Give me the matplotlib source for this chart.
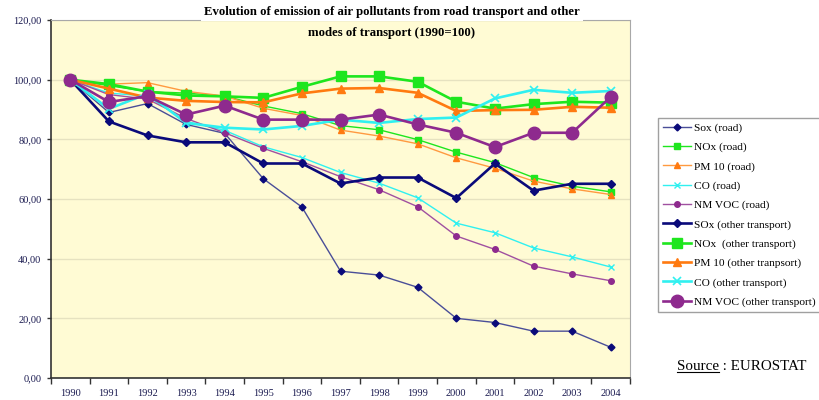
import matplotlib
matplotlib.use("Agg")
import matplotlib.pyplot as plt
from matplotlib.lines import Line2D

plt.rcParams['font.family'] = ['Liberation Serif', 'DejaVu Serif']

years = list(range(1990, 2005))
year_labels = [str(y) for y in years]

sox_road = [100, 89, 92, 85, 82, 66.8, 57.3, 35.8, 34.5, 30.4, 20.0, 18.6, 15.7, 15.7, 10.3]
nox_road = [100, 98, 96, 95.5, 94.5, 91.2, 88.6, 84.6, 83.2, 79.9, 75.7, 72.2, 67.2, 64.3, 62.4]
pm10_road = [100, 98.5, 99, 96.1, 94.5, 90.4, 88.0, 83.1, 81.1, 78.5, 73.8, 70.3, 66.0, 63.4, 61.5]
co_road = [100, 95.5, 94.5, 86, 83, 77.5, 73.9, 68.9, 65.3, 60.4, 51.9, 48.7, 43.6, 40.6, 37.2]
nmvoc_road = [100, 95, 93.5, 87, 82.2, 77.0, 72.5, 67.5, 63.1, 57.4, 47.6, 43.1, 37.5, 34.9, 32.6]
sox_other = [100, 86, 81.3, 79, 79, 71.9, 71.9, 65.2, 67.2, 67.2, 60.3, 71.9, 62.8, 65.1, 65.1]
nox_other = [100, 98.5, 96, 94.7, 94.4, 93.9, 97.6, 101.1, 101.1, 99.3, 92.6, 90.3, 91.8, 92.6, 92.3]
pm10_other = [100, 97, 94, 92.9, 92.5, 92.4, 95.4, 97.0, 97.2, 95.6, 89.5, 89.8, 89.9, 90.9, 90.6]
co_other = [100, 90.2, 95.3, 85.5, 83.9, 83.3, 84.5, 86.6, 85.5, 86.8, 87.3, 93.7, 96.6, 95.6, 96.2]
nmvoc_other = [100, 92.5, 94.5, 88.3, 91.3, 86.6, 86.6, 86.6, 88.3, 85.0, 82.2, 77.4, 82.2, 82.2, 94.2]

labels = ["Sox (road)", "NOx (road)", "PM 10 (road)", "CO (road)", "NM VOC (road)",
          "SOx (other transport)", "NOx  (other transport)", "PM 10 (other tranpsort)",
          "CO (other transport)", "NM VOC (other transport)"]

navy = '#0a0a7a'
green = '#1ee61e'
orange = '#ff7a10'
cyan = '#30f0f0'
purple = '#8e2a8e'

series = [
    (sox_road, dict(color='#4a4e98', lw=1.0, marker='D', ms=3.5, mfc=navy, mec=navy)),
    (nox_road, dict(color=green, lw=1.0, marker='s', ms=4, mfc=green, mec=green)),
    (pm10_road, dict(color='#ff9a40', lw=1.0, marker='^', ms=5, mfc=orange, mec=orange)),
    (co_road, dict(color=cyan, lw=1.0, marker='x', ms=5, mew=1.0, mfc=cyan, mec=cyan)),
    (nmvoc_road, dict(color='#a050a0', lw=1.0, marker='o', ms=4, mfc=purple, mec=purple)),
    (sox_other, dict(color=navy, lw=1.9, marker='D', ms=4, mfc=navy, mec=navy)),
    (nox_other, dict(color=green, lw=1.9, marker='s', ms=7.5, mfc=green, mec=green)),
    (pm10_other, dict(color=orange, lw=1.9, marker='^', ms=6, mfc=orange, mec=orange)),
    (co_other, dict(color=cyan, lw=1.9, marker='x', ms=6, mew=1.2, mfc=cyan, mec=cyan)),
    (nmvoc_other, dict(color=purple, lw=1.9, marker='o', ms=9, mfc=purple, mec=purple)),
]

fig = plt.figure(figsize=(8.2, 4.0), dpi=100)
ax = fig.add_axes([51/820, 1-378/400, (630-51)/820, (378-20)/400])
ax.set_facecolor('#fffbd4')

handles = []
for (vals, st), lab in zip(series, labels):
    h, = ax.plot(years, vals, label=lab, **st)
    handles.append(h)

ax.set_xlim(1989.5, 2004.5)
ax.set_ylim(0, 120)
ax.set_yticks(range(0, 121, 20))
ax.set_yticklabels([f"{v},00" for v in range(0, 121, 20)])
ax.set_xticks(years)
ax.set_xticklabels(year_labels)
ax.set_xticks([y + 0.5 for y in range(1989, 2005)], minor=True)
ax.tick_params(axis='x', which='major', length=0, pad=8, labelsize=7.5)
ax.tick_params(axis='x', which='minor', length=4, width=1, color='#333333', direction='out')
ax.tick_params(axis='y', which='major', length=3, width=1, color='#333333', labelsize=7.5, pad=4)
for t in ax.get_yticklabels() + ax.get_xticklabels():
    t.set_color('#1a1a50')
ax.grid(axis='y', color='#e6e2c0', lw=1.0)
ax.set_axisbelow(True)
ax.spines['left'].set_color('#333333')
ax.spines['bottom'].set_color('#333333')
ax.spines['left'].set_linewidth(1.2)
ax.spines['bottom'].set_linewidth(1.2)
ax.spines['top'].set_color('#a8a8a8')
ax.spines['right'].set_color('#a8a8a8')

# title
fig.text(392/820, 1-12/400, "Evolution of emission of air pollutants from road transport and other",
         ha='center', va='center', fontsize=9.2, fontweight='bold',
         bbox=dict(facecolor='white', edgecolor='none', pad=2.5), zorder=5)
fig.text(392/820, 1-33/400, "modes of transport (1990=100)",
         ha='center', va='center', fontsize=9.2, fontweight='bold', zorder=5)

leg = fig.legend(handles=handles, loc='upper left', bbox_to_anchor=(658/820, 1-118/400),
                 fontsize=8.2, frameon=True, fancybox=False, edgecolor='#888888',
                 handlelength=2.5, labelspacing=0.8, borderpad=0.42, handletextpad=0.25,
                 borderaxespad=0)
leg.get_frame().set_linewidth(1.0)

src1 = fig.text(677/820, 1-367/400, "Source", ha='left', va='center', fontsize=10.8)
fig.canvas.draw()
bb = src1.get_window_extent().transformed(fig.transFigure.inverted())
fig.text(bb.x1, 1-367/400, " : EUROSTAT", ha='left', va='center', fontsize=10.8)
fig.add_artist(Line2D([bb.x0, bb.x1], [bb.y0 + 0.004, bb.y0 + 0.004], color='black', lw=0.8,
                      transform=fig.transFigure))

fig.savefig("out.png", dpi=100)
